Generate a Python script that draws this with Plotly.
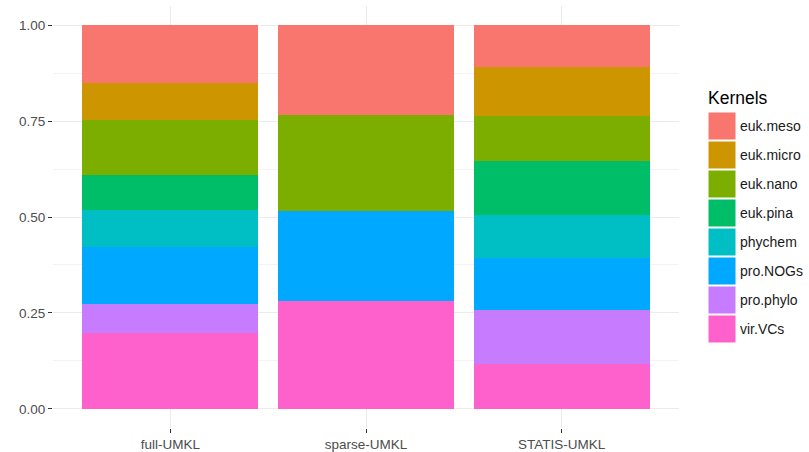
import plotly.graph_objects as go

methods = ["full-UMKL", "sparse-UMKL", "STATIS-UMKL"]
kernels = ["euk.meso", "euk.micro", "euk.nano", "euk.pina", "phychem", "pro.NOGs", "pro.phylo", "vir.VCs"]
colors = ["#F8766D", "#CD9600", "#7CAE00", "#00BE67", "#00BFC4", "#00A9FF", "#C77CFF", "#FF61CC"]

euk_meso = [0.152, 0.234, 0.110]
euk_micro = [0.094, 0.000, 0.126]
euk_nano = [0.145, 0.251, 0.118]
euk_pina = [0.091, 0.000, 0.140]
phychem = [0.097, 0.000, 0.113]
pro_NOGs = [0.147, 0.233, 0.135]
pro_phylo = [0.076, 0.000, 0.141]
vir_VCs = [0.198, 0.282, 0.117]

values = [euk_meso, euk_micro, euk_nano, euk_pina, phychem, pro_NOGs, pro_phylo, vir_VCs]
y_ticks = [0, 0.25, 0.5, 0.75, 1.0]
y_ticklabels = ["0.00", "0.25", "0.50", "0.75", "1.00"]

fig = go.Figure()
# stack from bottom (vir.VCs) to top (euk.meso)
for name, col, vals in reversed(list(zip(kernels, colors, values))):
    fig.add_trace(go.Bar(x=methods, y=vals, name=name, marker=dict(color=col, line=dict(width=0)),
                         showlegend=False))

fig.update_layout(
    barmode="stack",
    bargap=0.1,
    width=809, height=452,
    margin=dict(l=53, r=130, t=6, b=24, autoexpand=False),
    plot_bgcolor="white", paper_bgcolor="white",
    font=dict(family="Liberation Sans, Arial, sans-serif", color="#4D4D4D"),
)
fig.update_xaxes(
    range=[-0.6, 2.6], showgrid=True, gridcolor="#EBEBEB", gridwidth=1,
    ticks="outside", ticklen=4, tickcolor="#333333", tickwidth=1, automargin=False,
    tickfont=dict(size=13.5, color="#4D4D4D"), zeroline=False, showline=False,
)
fig.update_yaxes(
    range=[-0.05, 1.05], tickvals=y_ticks, ticktext=y_ticklabels, automargin=False,
    showgrid=True, gridcolor="#EBEBEB", gridwidth=1,
    minor=dict(showgrid=True, dtick=0.125, tick0=0, gridcolor="#F3F3F3", gridwidth=1),
    ticks="outside", ticklen=4, tickcolor="#333333", tickwidth=1,
    tickfont=dict(size=13.5, color="#4D4D4D"), zeroline=False, showline=False,
)

# manual ggplot-style legend (pixel offsets from the plot area's top-right corner)
fig.add_annotation(x=1, y=1, xref="paper", yref="paper", xanchor="left", yanchor="middle",
                   xshift=27, yshift=-92, text="Kernels", showarrow=False,
                   font=dict(size=17.5, color="#000000"))
for i, (name, col) in enumerate(zip(kernels, colors)):
    top = 106 + 29 * i
    fig.add_shape(type="rect", xref="paper", yref="paper", xsizemode="pixel", ysizemode="pixel",
                  xanchor=1, yanchor=1, x0=29, x1=57, y0=-(top + 28), y1=-top,
                  fillcolor=col, line=dict(width=1, color="white"))
    fig.add_annotation(x=1, y=1, xref="paper", yref="paper", xanchor="left", yanchor="middle",
                       xshift=59, yshift=-(top + 14), text=name, showarrow=False,
                       font=dict(size=14, color="#1A1A1A"))

fig.write_html("out.html", config={"displayModeBar": False},
               post_script="document.body.style.margin='0';")
